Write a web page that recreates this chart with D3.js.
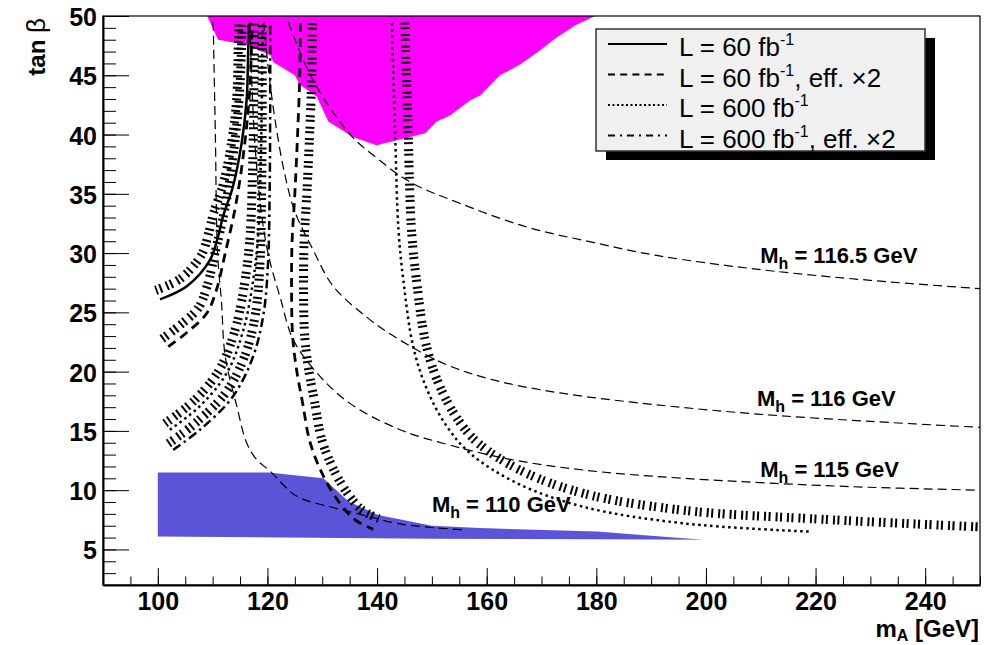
<!DOCTYPE html>
<html>
<head>
<meta charset="utf-8">
<script src="https://cdn.jsdelivr.net/npm/d3@7"></script>
<style>
  body { margin: 0; background: #fff; }
  svg text { font-family: "Liberation Sans", Arial, Helvetica, sans-serif; }
</style>
</head>
<body>
<div id="chart"></div>
<script>
// Axis ranges and tick labels
const xDomain = [90, 250];
const yDomain = [2, 50];
const xTickLabels = [100, 120, 140, 160, 180, 200, 220, 240];
const yTickLabels = [5, 10, 15, 20, 25, 30, 35, 40, 45, 50];

// Excluded regions [mA, tanb]
const magentaRegion = [[109.0, 50], [111.0, 48.0], [115.9, 47.6], [120.5, 46.7], [121.1, 46.1], [125.0, 45.0],
  [125.9, 44.2], [129.0, 43.2], [131.1, 41.1], [135.6, 39.8], [139.9, 39.1], [148.8, 40.1], [150.9, 41.1],
  [153.3, 41.6], [157.0, 42.9], [158.8, 43.3], [162.4, 45.0], [166.1, 45.9], [169.7, 47.1], [172.5, 48.1],
  [176.1, 49.2], [179.8, 50]];
const blueRegion = [[100, 11.5], [120.2, 11.5], [130.2, 11.0], [134.8, 9.05], [140.2, 7.9], [150, 7.0],
  [158.8, 6.8], [180.1, 6.52], [190, 6.15], [199.5, 5.82], [180, 5.85], [150, 5.9], [100, 6.1]];

// Iso-Mh contours (thin dashed)
const mh110 = [[110.1, 49.5], [110.5, 40], [110.9, 30], [111.6, 26], [112.3, 21.3], [114.4, 17.1], [116.2, 14.0],
  [118.0, 12.6], [120.5, 11.6], [125.3, 9.5], [131.4, 8.6], [137.5, 7.9], [143.6, 7.2], [150, 6.85], [155.7, 6.66]];
const mh115 = [[116.8, 49.5], [117.6, 40], [119.0, 33], [120.4, 29.4], [122.3, 26.3], [124.7, 22.7], [129.0, 19.9],
  [135.1, 17.3], [144.2, 15.1], [153.3, 13.8], [164.3, 12.6], [177.6, 11.7], [195.9, 11.0], [226.3, 10.3], [250, 10.0]];
const mh116 = [[119.3, 49.5], [120.3, 45], [121.4, 41.2], [123.0, 37], [125.0, 33.5], [128.3, 30.3], [132.0, 27.2],
  [138.1, 24.6], [143.0, 23.0], [152.1, 20.7], [161.2, 19.3], [173.4, 18.2], [191, 17.2], [210, 16.4],
  [230, 15.8], [250, 15.3]];
const mh1165 = [[123.8, 49.5], [128.3, 44.6], [135.1, 40.0], [140, 38], [146, 36.0], [155.1, 34.2], [167.3, 32.2],
  [179.4, 30.9], [191, 29.8], [210, 28.6], [230, 27.7], [250, 27.0]];

// Discovery contours (hatched)
const leftSolid = [[100.4, 26.1], [105.3, 27.2], [109.5, 29.4], [111.0, 31.4], [111.9, 33.1], [113.7, 35.6],
  [115.3, 39.3], [116.2, 42.9], [116.5, 47.4], [116.6, 49.4]];
const leftDashed = [[101.9, 22.1], [105.3, 23.3], [108.9, 24.9], [110.7, 26.9], [112.3, 30], [114.2, 34],
  [115.8, 39], [116.8, 44], [117.2, 49.4]];
const leftDotted = [[102.2, 15.1], [107.7, 17.1], [112.6, 19.9], [115.6, 23.5], [117.4, 27.7], [118.3, 31.5],
  [118.8, 38], [119.0, 44], [119.1, 49.4]];
const leftDashDot = [[102.8, 13.4], [107.7, 15.1], [113.7, 17.9], [117.4, 21.3], [119.3, 24.9], [120.1, 29.1],
  [120.4, 35], [120.5, 42], [120.5, 49.4]];
const rightDashed = [[126.0, 49.4], [125.9, 45], [125.5, 40], [125.0, 35], [124.5, 31], [124.4, 27], [124.6, 23],
  [125.3, 20.2], [126.4, 17.4], [127.8, 14.0], [130.2, 11.2], [133.2, 8.9], [136.0, 7.5], [139.3, 6.7]];
const rightDotted = [[142.7, 49.4], [143.3, 40], [143.9, 32], [144.8, 27.7], [146.6, 22.1], [149.1, 18.5],
  [152.7, 15.4], [157.0, 13.1], [165.5, 10.6], [177.6, 8.6], [195.9, 7.2], [219, 6.5], [250, 5.8]];

const mhLabels = [
  { value: "116.5", x: 209.9, y: 29.2 },
  { value: "116", x: 209.3, y: 17.1 },
  { value: "115", x: 209.9, y: 11.1 },
  { value: "110", x: 150.0, y: 8.16 }
];
const legendLumis = ["60", "60", "600", "600"];
const legendTails = ["", ", eff. \u00D72", "", ", eff. \u00D72"];

// Line styles
const styles = {
  solid:   { dash: null, w: 2.5, legendDash: null },
  dashed:  { dash: "9,6", w: 2.8, legendDash: "7,5.2" },
  dotted:  { dash: "2.5,3.5", w: 2.5, legendDash: "2,2.5" },
  dashdot: { dash: "9,4,2.5,4", w: 2.5, legendDash: "7,5,2,5" }
};
const legendStyles = ["solid", "dashed", "dotted", "dashdot"];

const contours = [
  { pts: leftSolid, style: "solid", off: 10 },
  { pts: leftDashed, style: "dashed", off: 10 },
  { pts: leftDotted, style: "dotted", off: 8 },
  { pts: leftDashDot, style: "dashdot", off: 8 },
  { pts: rightDashed, style: "dashed", off: 12 },
  { pts: rightDotted, style: "dotted", off: 13, lineMax: 219 }
];

const W = 985, H = 645;
const x = d3.scaleLinear().domain(xDomain).range([103, 980]);
const y = d3.scaleLinear().domain(yDomain).range([585, 16]);

const svg = d3.select("#chart").append("svg").attr("width", W).attr("height", H);

svg.append("defs").append("clipPath").attr("id", "plotclip")
  .append("rect").attr("x", x(xDomain[0])).attr("y", y(yDomain[1]))
  .attr("width", x(xDomain[1]) - x(xDomain[0])).attr("height", y(yDomain[0]) - y(yDomain[1]));

const plot = svg.append("g").attr("clip-path", "url(#plotclip)");

const poly = d3.line().x(d => x(d[0])).y(d => y(d[1]));
const smooth = d3.line().x(d => x(d[0])).y(d => y(d[1])).curve(d3.curveCatmullRom);

// Regions
plot.append("path").attr("d", poly(magentaRegion) + "Z").attr("fill", "#ff00ff");
plot.append("path").attr("d", poly(blueRegion) + "Z").attr("fill", "#5b54d9");

// Mh contours
[mh110, mh115, mh116, mh1165].forEach(c => {
  plot.append("path").attr("d", smooth(c)).attr("fill", "none")
    .attr("stroke", "#000").attr("stroke-width", 1.2).attr("stroke-dasharray", "9,5");
});

// Offset a curve in pixel space to the left of its direction of travel
function offsetCurve(pts, d) {
  const p = pts.map(v => [x(v[0]), y(v[1])]);
  return p.map((v, i) => {
    const a = p[Math.max(i - 1, 0)], b = p[Math.min(i + 1, p.length - 1)];
    let tx = b[0] - a[0], ty = b[1] - a[1];
    const n = Math.hypot(tx, ty) || 1;
    tx /= n; ty /= n;
    return [v[0] + ty * d, v[1] - tx * d];
  });
}
const pixLine = d3.line().curve(d3.curveCatmullRom);

// Hatch bands
contours.forEach(c => {
  plot.append("path").attr("d", pixLine(offsetCurve(c.pts, c.off)))
    .attr("fill", "none").attr("stroke", "#000").attr("stroke-width", 9)
    .attr("stroke-dasharray", "2,2.5,2,5");
});

// Contour lines
contours.forEach(c => {
  const s = styles[c.style];
  const pts = c.lineMax ? c.pts.filter(d => d[0] <= c.lineMax) : c.pts;
  plot.append("path").attr("d", smooth(pts)).attr("fill", "none")
    .attr("stroke", "#000").attr("stroke-width", s.w)
    .attr("stroke-dasharray", s.dash);
});

// Mh labels
mhLabels.forEach(l => {
  const t = svg.append("text").attr("x", x(l.x)).attr("y", y(l.y))
    .attr("font-size", 22).attr("font-weight", "bold");
  t.append("tspan").text("M");
  t.append("tspan").attr("font-size", 16).attr("dy", 6).text("h");
  t.append("tspan").attr("dy", -6).text(" = " + l.value + " GeV");
});

// Frame
svg.append("rect").attr("x", x(xDomain[0])).attr("y", y(yDomain[1]))
  .attr("width", x(xDomain[1]) - x(xDomain[0])).attr("height", y(yDomain[0]) - y(yDomain[1]))
  .attr("fill", "none").attr("stroke", "#000").attr("stroke-width", 1.2);

// Axes
const xMinor = d3.range(90, 251, 5);
const yMinor = d3.range(2, 51, 1);

svg.append("g").attr("transform", `translate(0,${y(yDomain[0])})`)
  .call(d3.axisBottom(x).tickValues(xMinor).tickSize(-8.5).tickFormat(""))
  .call(g => g.select(".domain").remove());
svg.append("g").attr("transform", `translate(${x(xDomain[0])},0)`)
  .call(d3.axisLeft(y).tickValues(yMinor).tickSize(-13).tickFormat(""))
  .call(g => g.select(".domain").remove());

const xAxis = svg.append("g").attr("transform", `translate(0,${y(yDomain[0])})`)
  .call(d3.axisBottom(x).tickValues(xTickLabels).tickSize(-17).tickSizeOuter(0).tickPadding(7));
const yAxis = svg.append("g").attr("transform", `translate(${x(xDomain[0])},0)`)
  .call(d3.axisLeft(y).tickValues(yTickLabels).tickSize(-26).tickSizeOuter(0).tickPadding(6));

[xAxis, yAxis].forEach(g => {
  g.attr("font-family", null).attr("font-size", null);
  g.selectAll("text").attr("font-size", 25).attr("font-weight", "bold").attr("fill", "#000");
  g.selectAll("line").attr("stroke", "#000");
  g.select(".domain").attr("stroke", "#000").attr("stroke-width", 2);
});
yAxis.selectAll("text").attr("dy", "0.38em");
xAxis.selectAll("text").attr("dy", "0.72em");

// Axis titles
const xt = svg.append("text").attr("x", 979).attr("y", 637).attr("text-anchor", "end")
  .attr("font-size", 24).attr("font-weight", "bold");
xt.append("tspan").text("m");
xt.append("tspan").attr("font-size", 16).attr("dy", 4).text("A");
xt.append("tspan").attr("dy", -4).text(" [GeV]");

const yt = svg.append("text").attr("transform", "translate(45,18) rotate(-90)")
  .attr("text-anchor", "end").attr("font-size", 24).attr("font-weight", "bold");
yt.append("tspan").text("tan ");
yt.append("tspan").attr("font-weight", "normal").attr("font-size", 26).text("\u03B2");

// Legend
const lg = { x: 596, y: 29, w: 329, h: 122 };
svg.append("rect").attr("x", lg.x + 10).attr("y", lg.y + 9).attr("width", lg.w).attr("height", lg.h).attr("fill", "#000");
svg.append("rect").attr("x", lg.x).attr("y", lg.y).attr("width", lg.w).attr("height", lg.h)
  .attr("fill", "#f0f0f0").attr("stroke", "#333").attr("stroke-width", 1.5);

legendStyles.forEach((st, i) => {
  const base = 56 + i * 30.5;
  svg.append("line").attr("x1", 608).attr("x2", 667).attr("y1", base - 12).attr("y2", base - 12)
    .attr("stroke", "#000").attr("stroke-width", 2.2).attr("stroke-dasharray", styles[st].legendDash);
  const t = svg.append("text").attr("x", 679).attr("y", base).attr("font-size", 26);
  t.append("tspan").text("L = " + legendLumis[i] + " fb");
  t.append("tspan").attr("font-size", 16).attr("dy", -11).text("-1");
  t.append("tspan").attr("dy", 11).text(legendTails[i]);
});
</script>
</body>
</html>
